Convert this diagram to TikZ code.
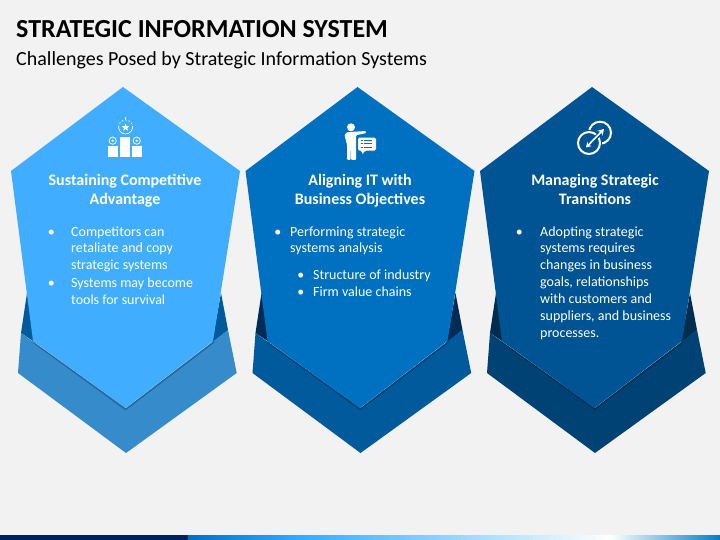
\documentclass[tikz,border=0pt]{standalone}
\usepackage{fontspec}
\setmainfont{Carlito}
\usepackage{xcolor}
\usetikzlibrary{arrows.meta, positioning, shapes.geometric}
\definecolor{pagebg}{HTML}{F2F2F2}
\definecolor{skyhex}{HTML}{41ADFF}
\definecolor{skyband}{HTML}{368BCB}
\definecolor{skydark}{HTML}{005A9C}
\definecolor{midhex}{HTML}{0070C0}
\definecolor{midband}{HTML}{005A9C}
\definecolor{middark}{HTML}{002C55}
\definecolor{deephex}{HTML}{005494}
\definecolor{deepband}{HTML}{004274}
\definecolor{deepdark}{HTML}{002C50}
\definecolor{barnavy}{HTML}{002060}

\begin{document}
\begin{tikzpicture}[
    x=1pt, y=-1pt,
    titletext/.style={font=\fontsize{26}{30}\selectfont\bfseries, text=black, anchor=west, inner sep=0pt},
    subtext/.style={font=\fontsize{20}{24}\selectfont, text=black, anchor=west, inner sep=0pt},
    headtext/.style={font=\fontsize{16}{19}\selectfont\bfseries, text=white, align=center, inner sep=0pt},
    itemtext/.style={font=\fontsize{14}{16.9}\selectfont, text=white, align=left, inner sep=0pt, anchor=north west},
    bulletmark/.style={font=\fontsize{14}{16.9}\selectfont, text=white, inner sep=0pt, anchor=north east},
    iconline/.style={white, line width=2pt}
]
\useasboundingbox (0,0) rectangle (720,540);
\fill[pagebg] (0,0) rectangle (720,540);

% Bottom bar
\fill[barnavy] (0,535) rectangle (188,540);
\shade[left color=midhex, right color=cyan!60!blue!80!white] (188,535) rectangle (303,540);
\shade[left color=cyan!60!blue!80!white, right color=white] (303,535) rectangle (610,540);
\shade[left color=white, right color=midhex!90!cyan] (610,535) rectangle (720,540);

% Title
\node[titletext] (title) at (16,29) {STRATEGIC INFORMATION SYSTEM};
\node[subtext] (subtitle) at (16,60) {Challenges Posed by Strategic Information Systems};

% Panels
\foreach \dx/\hexcol/\bandcol/\darkcol in {0/skyhex/skyband/skydark, 234.5/midhex/midband/middark, 469/deephex/deepband/deepdark}{
  \begin{scope}[xshift=\dx pt]
    \fill[\darkcol] (27,293) -- (21,333) -- (36,343) -- cycle;
    \fill[\darkcol] (221,293) -- (228,330) -- (212,343) -- cycle;
    \fill[\bandcol] (21,333) -- (18,373) -- (126,453) -- (236.7,373) -- (228,330) -- (126,408) -- cycle;
    \draw[black, opacity=0.25, line width=1.5pt] (33,342) -- (125.6,409.5) -- (214,342);
    \fill[\hexcol] (123,87) -- (240,171) -- (213,341) -- (125.6,408) -- (33,341) -- (11,171) -- cycle;
  \end{scope}
}

% Podium icon
\fill[white] (120,136.7) rectangle (130,157.3);
\fill[white] (107.7,146) rectangle (118.3,157.3);
\fill[white] (131.7,146) rectangle (142.3,157.3);
\draw[white, line width=0.8pt] (112.7,140.7) circle (3.6);
\draw[white, line width=0.8pt] (136.7,140.7) circle (3.6);
\fill[white] (112.7,140.7) circle (1.3);
\fill[white] (136.7,140.7) circle (1.3);
\node[star, star points=5, star point ratio=2.4, fill=white, inner sep=0pt, minimum size=8pt] (podiumstar) at (125.6,127.5) {};
\draw[white, line width=0.7pt] (132.6,127) arc[start angle=0, end angle=180, radius=7];
\draw[white, line width=0.7pt, dash pattern=on 1.5pt off 2pt] (118.6,127) arc[start angle=180, end angle=360, radius=7];
\draw[white, line width=0.7pt] (125.6,120) -- (125.6,117.5);

% Presenter icon
\fill[white] (351,127.3) circle (4);
\fill[white, rounded corners=1pt] (344.5,135) -- (347,132.2) -- (366,131) -- (366,133.2) -- (356,135.2) -- (356,160) -- (351.2,160) -- (351.2,150) -- (350.6,150) -- (350.6,160) -- (347,160) -- (347,145) -- cycle;
\fill[white, rounded corners=1.5pt] (358,137.7) -- (376,137.7) -- (376,150.7) -- (365,150.7) -- (362,155) -- (362,150.7) -- (358,150.7) -- cycle;
\foreach \ly in {140.5,143.7,147}{
  \draw[midhex, line width=0.9pt] (364,\ly) -- (372,\ly);
  \draw[midhex, line width=0.9pt] (360.5,\ly) -- (362.5,\ly);
}

% Transition icon
\draw[iconline] (600,132.7) circle (11);
\fill[deephex] (589,143) circle (13);
\draw[iconline] (589,143) circle (11);
\draw[deephex, line width=4pt] (587.5,146) -- (603,130.5);
\draw[white, line width=1.6pt, {Stealth[length=5pt,width=6pt]}-{Stealth[length=6pt,width=7pt]}] (586,147.5) -- (604,129);

% Left panel text
\node[headtext] (sustain) at (125,191) {\strut Sustaining Competitive\\\strut Advantage};
\node[itemtext] (compete) at (71,224) {\strut Competitors can\\retaliate and copy\\strategic systems\strut};
\node[itemtext, below=0pt of compete.south west, anchor=north west] (survive) {\strut Systems may become\\tools for survival};
\node[bulletmark, left=16pt of compete.north west, anchor=north east] (dotA) {\strut •};
\node[bulletmark, left=16pt of survive.north west, anchor=north east] (dotB) {\strut •};

% Middle panel text
\node[headtext] (aligning) at (360,191) {\strut Aligning IT with\\\strut Business Objectives};
\node[itemtext] (perform) at (290,224) {\strut Performing strategic\\systems analysis};
\node[itemtext] (industry) at (313,267) {\strut Structure of industry\strut};
\node[itemtext, below=0pt of industry.south west, anchor=north west] (chains) {\strut Firm value chains};
\node[bulletmark, left=8.5pt of perform.north west, anchor=north east] (dotC) {\strut •};
\node[bulletmark, left=8.5pt of industry.north west, anchor=north east] (dotD) {\strut •};
\node[bulletmark, left=8.5pt of chains.north west, anchor=north east] (dotE) {\strut •};

% Right panel text
\node[headtext] (managing) at (595,191) {\strut Managing Strategic\\\strut Transitions};
\node[itemtext] (adopting) at (540,224) {\strut Adopting strategic\\systems requires\\changes in business\\goals, relationships\\with customers and\\suppliers, and business\\processes.};
\node[bulletmark, left=17pt of adopting.north west, anchor=north east] (dotF) {\strut •};

\end{tikzpicture}
\end{document}
